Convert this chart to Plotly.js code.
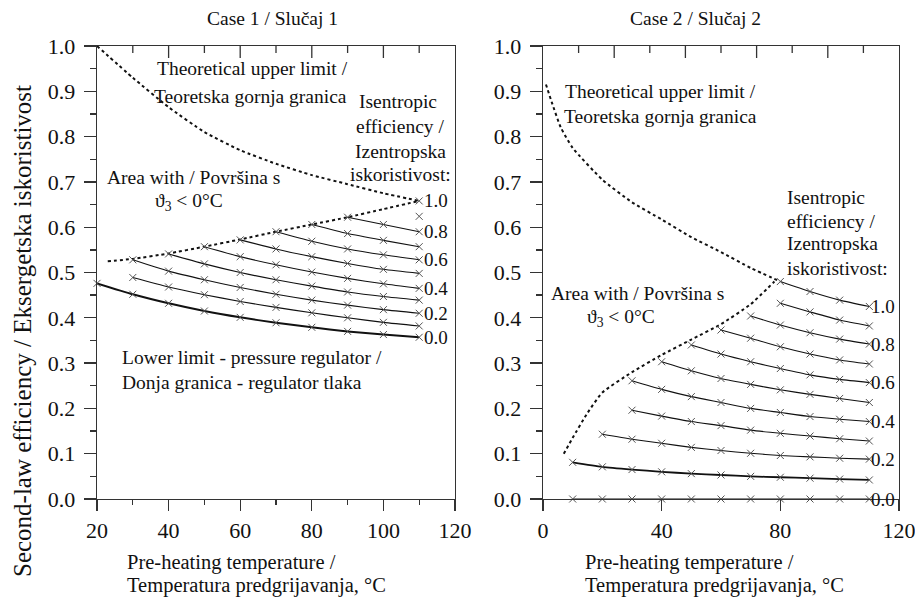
<!DOCTYPE html>
<html><head><meta charset="utf-8">
<script src="https://cdn.plot.ly/plotly-3.0.1.min.js"></script>
<style>body{margin:0;background:#fff}#chart{width:915px;height:597px}</style>
</head><body><div id="chart"></div>
<script>
// ---------- Case 1 data ----------
const c1UpperX = [20,30,40,50,60,70,80,90,100,110];
const c1UpperY = [1.0,0.93,0.865,0.81,0.77,0.74,0.715,0.695,0.675,0.658];
const c1LowerX = [23,30,40,50,60,70,80,90,100,110];
const c1LowerY = [0.525,0.530,0.542,0.557,0.573,0.590,0.606,0.622,0.640,0.658];
const c1e00x = [20,30,40,50,60,70,80,90,100,110];
const c1e00y = [0.476,0.452,0.432,0.415,0.401,0.389,0.379,0.370,0.363,0.357];
const c1e01x = [30,40,50,60,70,80,90,100,110];
const c1e01y = [0.489,0.468,0.451,0.436,0.423,0.411,0.400,0.390,0.382];
const c1e02x = [30,40,50,60,70,80,90,100,110];
const c1e02y = [0.528,0.503,0.484,0.467,0.452,0.439,0.428,0.418,0.410];
const c1e03x = [40,50,60,70,80,90,100,110];
const c1e03y = [0.541,0.519,0.500,0.484,0.470,0.457,0.447,0.439];
const c1e04x = [50,60,70,80,90,100,110];
const c1e04y = [0.557,0.535,0.517,0.501,0.487,0.475,0.465];
const c1e05x = [60,70,80,90,100,110];
const c1e05y = [0.572,0.552,0.535,0.520,0.507,0.498];
const c1e06x = [70,80,90,100,110];
const c1e06y = [0.590,0.569,0.552,0.539,0.528];
const c1e07x = [80,90,100,110];
const c1e07y = [0.606,0.586,0.571,0.557];
const c1e08x = [90,100,110];
const c1e08y = [0.622,0.606,0.590];
const c1e09x = [110];
const c1e09y = [0.624];
const c1e10x = [110];
const c1e10y = [0.658];

// ---------- Case 2 data ----------
const c2UpperX = [1,3,6,10,20,30,40,50,60,70,80];
const c2UpperY = [0.915,0.875,0.82,0.775,0.705,0.655,0.617,0.578,0.545,0.51,0.48];
const c2LowerX = [7,10,15,20,30,40,50,60,70,78];
const c2LowerY = [0.10,0.135,0.19,0.235,0.28,0.318,0.352,0.386,0.43,0.48];
const c2e00x = [10,20,30,40,50,60,70,80,90,100,110];
const c2e00y = [0,0,0,0,0,0,0,0,0,0,0];
const c2e01x = [10,20,30,40,50,60,70,80,90,100,110];
const c2e01y = [0.081,0.071,0.065,0.060,0.056,0.053,0.050,0.048,0.046,0.044,0.042];
const c2e02x = [20,30,40,50,60,70,80,90,100,110];
const c2e02y = [0.143,0.132,0.123,0.114,0.107,0.101,0.096,0.093,0.090,0.088];
const c2e03x = [30,40,50,60,70,80,90,100,110];
const c2e03y = [0.196,0.183,0.171,0.162,0.152,0.145,0.139,0.133,0.128];
const c2e04x = [30,40,50,60,70,80,90,100,110];
const c2e04y = [0.261,0.242,0.226,0.213,0.200,0.191,0.182,0.176,0.171];
const c2e05x = [40,50,60,70,80,90,100,110];
const c2e05y = [0.303,0.283,0.266,0.253,0.241,0.231,0.222,0.213];
const c2e06x = [50,60,70,80,90,100,110];
const c2e06y = [0.340,0.320,0.303,0.288,0.274,0.264,0.257];
const c2e07x = [60,70,80,90,100,110];
const c2e07y = [0.373,0.355,0.336,0.320,0.307,0.298];
const c2e08x = [70,80,90,100,110];
const c2e08y = [0.404,0.384,0.367,0.353,0.342];
const c2e09x = [80,90,100,110];
const c2e09y = [0.432,0.413,0.395,0.382];
const c2e10x = [80,90,100,110];
const c2e10y = [0.480,0.458,0.439,0.425];

const effLabels = ['1.0','0.8','0.6','0.4','0.2','0.0'];
const yTicks = [0,0.1,0.2,0.3,0.4,0.5,0.6,0.7,0.8,0.9,1.0];
const yTickText = ['0.0','0.1','0.2','0.3','0.4','0.5','0.6','0.7','0.8','0.9','1.0'];
const c1TopMajor = [40,60,80,100];
const c1TopMinor = [30,50,70,90,110];
const c2TopMajor = [24,48,72,96];
const c2TopMinor = [12,36,60,84,108];

// ---------- helpers ----------
const W = 915, H = 597;
const FONT = "'Liberation Serif', 'Times New Roman', serif";
const px = v => v / W;
const py = v => 1 - v / H;
const AX = '#333';

function curve(x, y, xa, ya, width) {
  return {x, y, xaxis: xa, yaxis: ya, type: 'scatter', mode: 'lines+markers',
    line: {color: '#111', width: width || 1.1, shape: 'spline', smoothing: 0.6},
    marker: {symbol: 'x-thin', size: 7, line: {color: '#555', width: 1}},
    cliponaxis: false, showlegend: false, hoverinfo: 'skip'};
}
function dotted(x, y, xa, ya) {
  return {x, y, xaxis: xa, yaxis: ya, type: 'scatter', mode: 'lines',
    line: {color: '#111', width: 2, dash: 'dot', shape: 'spline', smoothing: 0.5},
    cliponaxis: false, showlegend: false, hoverinfo: 'skip'};
}

const c1Curves = [[c1e00x,c1e00y,2],[c1e01x,c1e01y],[c1e02x,c1e02y],[c1e03x,c1e03y],[c1e04x,c1e04y],
  [c1e05x,c1e05y],[c1e06x,c1e06y],[c1e07x,c1e07y],[c1e08x,c1e08y],[c1e09x,c1e09y],[c1e10x,c1e10y]];
const c2Curves = [[c2e00x,c2e00y],[c2e01x,c2e01y,1.8],[c2e02x,c2e02y],[c2e03x,c2e03y],[c2e04x,c2e04y],
  [c2e05x,c2e05y],[c2e06x,c2e06y],[c2e07x,c2e07y],[c2e08x,c2e08y],[c2e09x,c2e09y],[c2e10x,c2e10y]];

const data = [
  dotted(c1UpperX, c1UpperY, 'x', 'y'),
  dotted(c1LowerX, c1LowerY, 'x', 'y'),
  dotted(c2UpperX, c2UpperY, 'x2', 'y2'),
  dotted(c2LowerX, c2LowerY, 'x2', 'y2'),
  ...c1Curves.map(c => curve(c[0], c[1], 'x', 'y', c[2])),
  ...c2Curves.map(c => curve(c[0], c[1], 'x2', 'y2', c[2]))
];

const tickFont = {family: FONT, size: 22, color: '#111'};
const axLine = {showline: true, linecolor: AX, linewidth: 1.3, showgrid: false, zeroline: false,
  tickcolor: AX, tickwidth: 1.3, tickfont: tickFont, ticklabeloverflow: 'allow'};
const yDom = [py(499), py(46)];

// inward tick marks along the top frame of each panel (paper y, data x)
const shapes = [];
function topTicks(vals, xref, len) {
  vals.forEach(v => shapes.push({type: 'line', xref, yref: 'paper', x0: v, x1: v,
    y0: py(46), y1: py(46 + len), layer: 'above', line: {color: AX, width: 1.3}}));
}
topTicks(c1TopMajor, 'x', 12);
topTicks(c1TopMinor, 'x', 7);
topTicks(c2TopMajor, 'x2', 12);
topTicks(c2TopMinor, 'x2', 7);

const layout = {
  width: W, height: H, margin: {l: 0, r: 0, t: 0, b: 0},
  paper_bgcolor: '#fff', plot_bgcolor: '#fff', showlegend: false,
  font: {family: FONT, color: '#111'},
  xaxis: Object.assign({}, axLine, {domain: [px(97), px(455)], range: [20, 120], anchor: 'y',
    mirror: true, ticks: 'outside', ticklen: 11, tickvals: [20,40,60,80,100,120],
    minor: {tickvals: [30,50,70,90,110], ticklen: 5, ticks: 'outside', tickcolor: AX, tickwidth: 1.3}}),
  yaxis: Object.assign({}, axLine, {domain: yDom, range: [0, 1], anchor: 'x',
    mirror: true, ticks: 'outside', ticklen: 12, tickvals: yTicks, ticktext: yTickText,
    ticklabelstandoff: 4,
    minor: {dtick: 0.05, ticklen: 6, ticks: 'outside', tickcolor: AX, tickwidth: 1.3}}),
  xaxis2: Object.assign({}, axLine, {domain: [px(543), px(899)], range: [0, 120], anchor: 'y2',
    mirror: true, ticks: 'outside', ticklen: 11, tickvals: [0,40,80,120]}),
  yaxis2: Object.assign({}, axLine, {domain: yDom, range: [0, 1], anchor: 'x2',
    mirror: true, ticks: 'outside', ticklen: 12, tickvals: yTicks, ticktext: yTickText,
    ticklabelstandoff: 4,
    minor: {dtick: 0.05, ticklen: 6, ticks: 'outside', tickcolor: AX, tickwidth: 1.3}}),
  shapes,
  annotations: []
};

function note(text, x, y, xanchor, size) {
  layout.annotations.push({text, x: px(x), y: py(y), xref: 'paper', yref: 'paper',
    xanchor: xanchor || 'left', yanchor: 'middle', showarrow: false,
    font: {family: FONT, size: size || 19.5, color: '#111'}});
}
note('Case 1 / Slučaj 1', 272, 19, 'center', 19.5);
note('Case 2 / Slučaj 2', 695, 19, 'center', 19.5);
note('Theoretical upper limit /', 155, 69);
note('Teoretska gornja granica', 152, 97);
note('Isentropic', 398, 102, 'center');
note('efficiency /', 400, 127, 'center');
note('Izentropska', 400, 151, 'center');
note('iskoristivost:', 400, 175, 'center');
note('Area with / Površina s', 105, 177);
note('ϑ<sub>3</sub> &lt; 0°C', 153, 202);
note('Lower limit - pressure regulator /', 120, 357);
note('Donja granica - regulator tlaka', 120, 382);
note('Theoretical upper limit /', 563, 92);
note('Teoretska gornja granica', 562, 116);
note('Isentropic', 785, 197);
note('efficiency /', 785, 221);
note('Izentropska', 785, 244);
note('iskoristivost:', 785, 268);
note('Area with / Površina s', 549, 293);
note('ϑ<sub>3</sub> &lt; 0°C', 585, 318);
note('Pre-heating temperature /', 125, 562, 'left', 20.5);
note('Temperatura predgrijavanja, °C', 125, 585, 'left', 20.5);
note('Pre-heating temperature /', 583, 562, 'left', 20.5);
note('Temperatura predgrijavanja, °C', 583, 585, 'left', 20.5);
layout.annotations.push({text: 'Second-law efficiency / Eksergetska iskoristivost',
  x: px(22), y: py(331), xref: 'paper', yref: 'paper', xanchor: 'center', yanchor: 'middle',
  textangle: -90, showarrow: false, font: {family: FONT, size: 25, color: '#111'}});

const c1Ends = [c1e10y, c1e08y, c1e06y, c1e04y, c1e02y, c1e00y];
const c2Ends = [c2e10y, c2e08y, c2e06y, c2e04y, c2e02y, c2e00y];
effLabels.forEach((t, i) => {
  const a = c1Ends[i], b = c2Ends[i];
  layout.annotations.push({text: t, x: 110, y: a[a.length-1], xref: 'x', yref: 'y',
    xanchor: 'left', yanchor: 'middle', xshift: 3, showarrow: false,
    font: {family: FONT, size: 19, color: '#111'}});
  layout.annotations.push({text: t, x: 110, y: b[b.length-1], xref: 'x2', yref: 'y2',
    xanchor: 'left', yanchor: 'middle', xshift: 0, showarrow: false,
    font: {family: FONT, size: 19, color: '#111'}});
});

Plotly.newPlot('chart', data, layout, {displayModeBar: false, staticPlot: true});
</script></body></html>
